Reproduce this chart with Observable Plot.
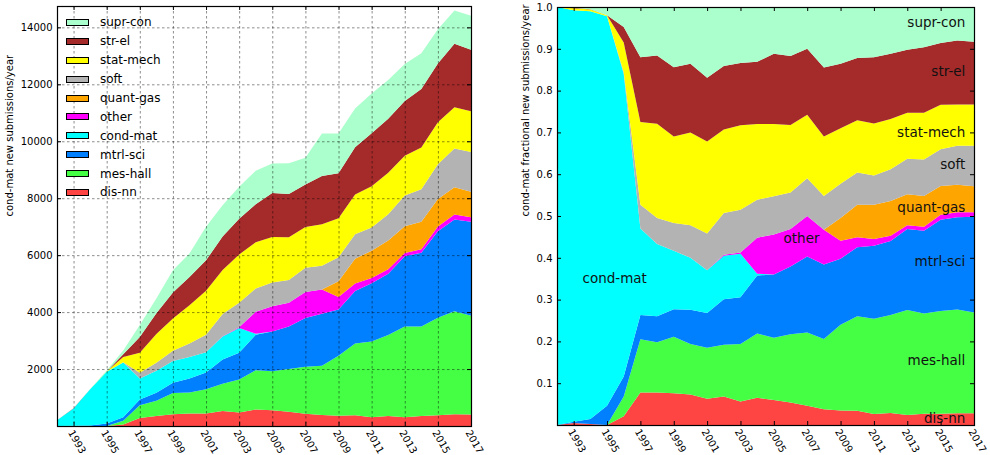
<!DOCTYPE html>
<html><head><meta charset="utf-8">
<script src="https://cdn.jsdelivr.net/npm/d3@7"></script>
<script src="https://cdn.jsdelivr.net/npm/@observablehq/plot@0.6"></script>
<style>
body{margin:0;background:#fff;font-family:"DejaVu Sans",sans-serif;}
#wrap{position:relative;width:990px;height:455px;overflow:hidden;}
#left{position:absolute;left:0;top:0;}
#right{position:absolute;left:495px;top:0;}
#legend{position:absolute;left:66px;top:13px;font-size:12px;color:#000;}
.item{display:flex;align-items:center;height:18.9px;}
.sw{width:21px;height:5px;border:1px solid #000;margin-right:11px;}
</style></head>
<body><div id="wrap"><div id="left"></div><div id="right"></div><div id="legend"></div></div>
<script>
const years = d3.range(1992, 2018);
const disnn    = [0,3,3,0,56,277,349,416,442,441,527,470,582,553,498,433,390,359,379,304,352,305,353,376,409,403];
const meshall  = [0,0,0,0,125,451,538,739,733,854,961,1159,1380,1374,1504,1649,1725,2105,2520,2663,2843,3190,3142,3427,3618,3473];
const mtrlsci  = [0,2,16,90,127,206,278,361,497,581,845,941,1245,1392,1495,1714,1828,1623,1840,2044,2151,2466,2592,3037,3224,3300];
const condmat  = [200,610,1268,1817,1919,735,775,767,751,714,806,874,36,0,0,0,0,0,0,0,0,0,0,0,0,0];
const other    = [0,0,0,0,0,0,0,0,0,0,16,25,771,885,831,914,852,442,268,187,158,114,118,167,175,159];
const quantgas = [0,0,0,0,0,0,0,0,0,0,0,0,0,0,0,0,0,555,870,958,1008,941,969,961,963,893];
const soft     = [0,0,0,0,11,202,278,361,473,616,775,857,815,839,803,848,832,842,859,818,923,1080,1139,1226,1357,1398];
const statmech = [0,3,5,4,188,703,1012,1133,1345,1540,1550,1697,1622,1595,1495,1432,1458,1366,1394,1448,1458,1398,1466,1477,1444,1427];
const strel    = [0,1,1,0,98,550,730,909,994,1071,1178,1252,1335,1549,1523,1488,1695,1582,1661,1857,1895,1919,2055,2062,2232,2162];
const suprcon  = [0,1,7,39,127,426,520,788,824,1183,1093,1126,1174,1033,1080,942,1489,1397,1360,1402,1361,1296,1257,1198,1167,1196];

const seriesNames = ["dis-nn","mes-hall","mtrl-sci","cond-mat","other","quant-gas","soft","stat-mech","str-el","supr-con"];
const seriesValues = [disnn,meshall,mtrlsci,condmat,other,quantgas,soft,statmech,strel,suprcon];
const seriesColors = ["#ff4444","#44ff44","#0080ff","#00ffff","#ff00ff","#ffa500","#b3b3b3","#ffff00","#a52a2a","#aaffcc"];

const xTicks = d3.range(1993, 2018, 2);
const yTicksLeft = [2000,4000,6000,8000,10000,12000,14000];
const yTicksRight = [0.1,0.2,0.3,0.4,0.5,0.6,0.7,0.8,0.9,1.0];

// label positions (year, fraction) for the right panel annotations
const annLabels = ["supr-con","str-el","stat-mech","soft","quant-gas","mtrl-sci","mes-hall","dis-nn"];
const annY = [0.963,0.847,0.700,0.624,0.522,0.393,0.156,0.016];
const annOther = {label:"other", year:2006.63, frac:0.447};
const annCond = {label:"cond-mat", year:1993.5, frac:0.352};
const annX = 2016.45;

const tidy = seriesNames.flatMap((s,i)=>years.map((y,j)=>({year:y, series:s, value:seriesValues[i][j]})));
const color = {domain: seriesNames, range: seriesColors};

function commonMarks(W, H, yTicks, fmt, ylabel, labelDx){
  return [
    Plot.tickX(xTicks, {x:d=>d, stroke:"#000", insetTop:H-4}),
    Plot.tickX(xTicks, {x:d=>d, stroke:"#000", insetBottom:H-4}),
    Plot.tickY(yTicks, {y:d=>d, stroke:"#000", insetRight:W-4}),
    Plot.tickY(yTicks, {y:d=>d, stroke:"#000", insetLeft:W-4}),
    Plot.frame({stroke:"#000", strokeWidth:1.2}),
    Plot.text(xTicks, {x:d=>d, text:d=>String(d), frameAnchor:"bottom", dy:17, rotate:60, fontSize:10, fill:"#000"}),
    Plot.text(yTicks, {y:d=>d, text:fmt, frameAnchor:"left", dx:-5, textAnchor:"end", fontSize:10, fill:"#000"}),
    Plot.text([ylabel], {text:d=>d, frameAnchor:"left", dx:labelDx, rotate:-90, fontSize:10, fill:"#000"})
  ];
}

const leftW = 495, leftH = 455;
const left = Plot.plot({
  width:leftW, height:leftH, marginLeft:57, marginRight:24, marginTop:6, marginBottom:29,
  style:{fontFamily:"DejaVu Sans", background:"transparent"},
  x:{domain:[1992,2017], axis:null},
  y:{domain:[0,14750], axis:null},
  color,
  marks:[
    Plot.areaY(tidy, {x:"year", y:"value", z:"series", fill:"series"}),
    Plot.ruleX(xTicks, {x:d=>d, stroke:"#000", strokeOpacity:0.45, strokeDasharray:"2.5,2.5"}),
    Plot.ruleY(yTicksLeft, {y:d=>d, stroke:"#000", strokeOpacity:0.45, strokeDasharray:"2.5,2.5"}),
    ...commonMarks(leftW-57-24, leftH-6-29, yTicksLeft, d=>String(d), "cond-mat new submissions/year", -47.5)
  ]
});
document.getElementById("left").appendChild(left);

const rightW = 495, rightH = 455;
const right = Plot.plot({
  width:rightW, height:rightH, marginLeft:62, marginRight:16, marginTop:7, marginBottom:30,
  style:{fontFamily:"DejaVu Sans", background:"transparent"},
  x:{domain:[1992,2017], axis:null},
  y:{domain:[0,1], axis:null},
  color,
  marks:[
    Plot.areaY(tidy, {x:"year", y:"value", z:"series", fill:"series", offset:"normalize"}),
    ...commonMarks(rightW-62-16, rightH-7-30, yTicksRight, d=>d.toFixed(1), "cond-mat fractional new submissions/year", -31.5),
    Plot.text(annLabels, {x:()=>annX, y:(d,i)=>annY[i], text:d=>d, textAnchor:"end", fontSize:13.5, fill:"#111"}),
    Plot.text([annOther], {x:"year", y:"frac", text:"label", textAnchor:"middle", fontSize:13.5, fill:"#111"}),
    Plot.text([annCond], {x:"year", y:"frac", text:"label", textAnchor:"start", fontSize:13.5, fill:"#111"})
  ]
});
document.getElementById("right").appendChild(right);

// legend (top to bottom = reverse stack order)
const legend = document.getElementById("legend");
seriesNames.slice().reverse().forEach(name=>{
  const i = seriesNames.indexOf(name);
  const row = document.createElement("div");
  row.className = "item";
  const sw = document.createElement("div");
  sw.className = "sw";
  sw.style.background = seriesColors[i];
  const t = document.createElement("span");
  t.textContent = name;
  row.appendChild(sw); row.appendChild(t);
  legend.appendChild(row);
});
</script>
</body></html>
